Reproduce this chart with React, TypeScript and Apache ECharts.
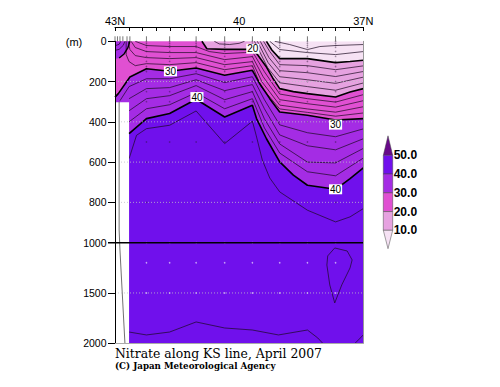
import React, { useEffect, useRef } from "react";
import * as echarts from "echarts";

// ---------------- data ----------------
const bandLevels = [10, 20, 30, 40, 50];
const bandColors = ["#f6e2f4", "#e6a2e0", "#e050d2", "#a42ce4", "#7010ec", "#680a8a"];

// thick contours: [latitude (deg N), depth (m)]
const contour10 = [[43,0],[39.34,0],[39.21,43],[39.02,86],[38.35,86],[37.67,106],[37.32,100],[37.0,94]];
const contour20 = [[43,0],[40.90,0],[40.78,37],[40.35,40],[39.82,40],[39.68,37],[39.55,68],[39.34,128],[39.19,182],[39.02,235],[38.69,250],[38.35,260],[37.67,277],[37.32,252],[37.0,235]];
const contour30 = [[43,277],[42.92,260],[42.64,177],[42.24,136],[41.68,149],[41.04,133],[40.35,169],[39.68,144],[39.50,211],[39.26,285],[39.02,351],[38.35,367],[37.67,391],[37.0,384]];
const contour30Coast = [[43,0],[42.64,0],[42.69,33],[42.78,63],[42.90,83],[43,88]];
const contour40 = [[42.66,459],[42.24,384],[41.68,359],[41.04,288],[40.35,376],[39.68,318],[39.58,384],[39.34,484],[39.02,599],[38.69,665],[38.35,715],[37.67,735],[37.32,682],[37.0,629]];

// thin contours (every 2)
const thin6 = [[39.14,0],[38.78,16],[38.35,41],[38.05,26],[37.67,21],[37.0,16]];
const thin8 = [[39.26,0],[39.02,41],[38.35,56],[37.67,66],[37.0,51]];
const thin12 = [[39.41,0],[39.26,51],[39.02,116],[38.35,121],[37.67,141],[37.0,122]];
const thin14 = [[39.49,0],[39.28,81],[39.02,146],[38.35,156],[37.67,175],[37.0,150]];
const thin16 = [[39.56,0],[39.30,106],[39.02,176],[38.35,191],[37.67,209],[37.0,178]];
const thin18 = [[39.63,0],[39.31,131],[39.02,206],[38.35,225],[37.67,243],[37.0,207]];
const thin18Bump = [[40.60,0],[40.48,13],[40.23,16],[40.0,10],[39.87,0]];
const thin22 = [[42.51,0],[42.24,21],[41.68,26],[41.04,26],[40.72,51],[40.35,61],[39.87,56],[39.68,51],[39.39,151],[39.02,262],[38.35,285],[37.67,302],[37.0,265]];
const thin24 = [[42.61,0],[42.51,31],[42.24,51],[41.68,56],[41.04,56],[40.35,91],[39.68,76],[39.42,176],[39.02,290],[38.35,310],[37.67,327],[37.0,295]];
const thin26 = [[42.68,0],[42.64,41],[42.51,71],[42.24,81],[41.68,86],[41.04,81],[40.35,116],[39.68,101],[39.45,201],[39.02,317],[38.35,336],[37.67,352],[37.0,325]];
const thin28 = [[42.73,0],[42.73,66],[42.66,101],[42.51,121],[42.24,111],[41.68,116],[41.04,106],[40.35,141],[39.68,121],[39.47,226],[39.02,336],[38.35,353],[37.67,372],[37.0,356]];
const thin32 = [[42.88,295],[42.66,225],[42.24,186],[41.68,186],[41.04,161],[40.35,205],[39.68,176],[39.39,290],[39.02,415],[38.35,454],[37.67,474],[37.0,435]];
const thin34 = [[42.66,285],[42.24,235],[41.68,230],[41.04,191],[40.35,245],[39.68,215],[39.39,335],[39.02,465],[38.35,519],[37.67,539],[37.0,484]];
const thin36 = [[42.66,345],[42.24,285],[41.68,270],[41.04,220],[40.35,290],[39.68,250],[39.39,385],[39.02,510],[38.35,600],[37.67,604],[37.0,532]];
const thin38 = [[42.66,400],[42.24,335],[41.68,315],[41.04,255],[40.35,335],[39.68,285],[39.39,430],[39.02,555],[38.35,648],[37.67,668],[37.0,580]];
const thin42 = [[42.66,583],[42.48,467],[42.24,434],[41.68,417],[41.04,346],[40.35,508],[39.68,397],[39.59,466],[39.44,590],[39.26,679],[39.02,748],[38.35,839],[37.67,897],[37.32,872],[37.0,831]];
const thin42Bottom = [[42.66,1888],[42.24,1917],[41.68,1888],[41.04,1788],[40.35,1848],[39.68,1868],[39.05,1917],[38.35,1868],[38.10,1947],[37.98,2000]];
const thin42Corner = [[37.20,2000],[37.0,1917]];
const thinLoop = [[37.69,1053],[37.86,1132],[37.88,1222],[37.81,1420],[37.69,1599],[37.52,1420],[37.32,1251],[37.27,1172],[37.39,1083],[37.69,1053]];
const thinCoast1 = [[42.76,0],[42.80,20],[42.90,40],[43,45]];
const thinCoast2 = [[42.86,0],[42.90,15],[43,22]];
const coastLine = [[42.90,300],[42.90,937],[42.88,1073],[42.76,2000]];
const thinContours = [thin6, thin8, thin12, thin14, thin16, thin18, thin18Bump, thin22, thin24, thin26, thin28, thin32, thin34, thin36, thin38, thin42, thin42Bottom, thin42Corner, thinLoop, thinCoast1, thinCoast2];

const noDataBox = [[43,303],[42.66,303],[42.66,2000],[43,2000]];

// contour labels [lat, depth, text]
const contourLabels: [number, number, string][] = [[41.66,149,"30"],[41.02,277,"40"],[39.67,37,"20"],[37.67,414,"30"],[37.67,735,"40"]];

// stations
const stationLats = [43.0, 42.94, 42.88, 42.81, 42.71, 42.64, 42.24, 41.68, 41.04, 40.35, 39.68, 39.02, 38.35, 37.67];
const sampleLats = [42.24, 41.68, 41.04, 40.35, 39.68, 39.02, 38.35, 37.67];
const sampleDepths = [0, 10, 20, 30, 50, 75, 100, 125, 150, 200, 250, 300, 400, 500, 600, 800, 1000, 1200, 1500];

// axes
const depthTicks = [0, 200, 400, 600, 800, 1000, 1500, 2000];
const dottedDepths = [200, 400, 600, 800, 1500];
const latLabelValues = [43, 40, 37];
const latMinorTicks = [43, 42.667, 42.333, 42, 41.667, 41.333, 41, 40.667, 40.333, 40, 39.667, 39.333, 39, 38.667, 38.333, 38, 37.667, 37.333, 37];

// ---------------- helpers ----------------
// broken depth scale: 0-1000 m full scale, 1000-2000 m at half scale
const tz = (d: number) => (d <= 1000 ? d : 1000 + (d - 1000) / 2);
const untz = (t: number) => (t <= 1000 ? t : 1000 + (t - 1000) * 2);
const toXY = (pts: number[][]) => pts.map((p) => [p[0], tz(p[1])]);

function trimSurface(c: number[][]) {
  let i = 0;
  while (i < c.length - 1 && c[i][1] === 0 && c[i + 1][1] === 0) i++;
  return c.slice(i);
}

function polySeries(pts: number[][], color: string, z: number) {
  return {
    type: "custom",
    coordinateSystem: "cartesian2d",
    clip: true,
    silent: true,
    z,
    data: [[40, 500]],
    renderItem: (_params: any, api: any) => ({
      type: "polygon",
      shape: { points: pts.map((p) => api.coord([p[0], tz(p[1])])) },
      style: { fill: color, stroke: null },
    }),
  };
}

function bandPolygon(contour: number[][]) {
  const first = contour[0];
  const last = contour[contour.length - 1];
  return [[43, first[1]], ...contour, [last[0], 2000], [43, 2000]];
}

function lineSeries(pts: number[][], width: number, color: string, z: number) {
  return {
    type: "line",
    data: toXY(pts),
    showSymbol: false,
    symbol: "none",
    silent: true,
    clip: true,
    z,
    lineStyle: { color, width },
  };
}

export default function App() {
  const ref = useRef<HTMLDivElement>(null);

  useEffect(() => {
    if (!ref.current) return;
    const chart = echarts.init(ref.current, null, { renderer: "svg" });

    const series: any[] = [];
    series.push(polySeries([[43, 0], [37, 0], [37, 2000], [43, 2000]], bandColors[0], 1));
    series.push(polySeries(bandPolygon(contour10), bandColors[1], 1));
    series.push(polySeries(bandPolygon(contour20), bandColors[2], 1));
    series.push(polySeries(bandPolygon(contour30), bandColors[3], 1));
    series.push(polySeries(contour30Coast, bandColors[3], 1));
    series.push(polySeries(bandPolygon(contour40), bandColors[4], 1));

    // sample dots
    const dots: number[][] = [];
    sampleLats.forEach((la) => sampleDepths.forEach((d) => dots.push([la, tz(d)])));
    series.push({
      type: "scatter",
      data: dots,
      symbolSize: 1.6,
      silent: true,
      z: 2,
      itemStyle: {
        color: (p: any) => (p.value[1] >= 1000 ? "rgba(255,255,255,0.75)" : "rgba(40,20,50,0.55)"),
      },
    });

    thinContours.forEach((c) => series.push(lineSeries(c, 0.7, "#1a0a20", 3)));

    series.push(polySeries(noDataBox, "#ffffff", 4));
    series.push(lineSeries(coastLine, 0.7, "#333333", 5));

    [contour10, contour20, contour30, contour40].forEach((c) => series.push(lineSeries(trimSurface(c), 1.6, "#000000", 6)));
    series.push(lineSeries(contour30Coast.slice(1, 5), 1.4, "#000000", 6));

    // dotted depth grid lines
    series.push({
      type: "custom",
      coordinateSystem: "cartesian2d",
      silent: true,
      z: 7,
      data: dottedDepths.map((d) => [40, tz(d)]),
      renderItem: (params: any, api: any) => {
        const d = dottedDepths[params.dataIndex];
        const a = api.coord([43, tz(d)]);
        const b = api.coord([37, tz(d)]);
        return {
          type: "line",
          shape: { x1: a[0], y1: a[1], x2: b[0], y2: b[1] },
          style: { stroke: "rgba(190,190,200,0.8)", lineWidth: 1, lineDash: [1, 2] },
        };
      },
    });
    // 1000 m break line
    series.push({
      type: "custom",
      coordinateSystem: "cartesian2d",
      silent: true,
      z: 8,
      data: [[40, 1000]],
      renderItem: (_p: any, api: any) => {
        const a = api.coord([43, 1000]);
        const b = api.coord([37, 1000]);
        return {
          type: "line",
          shape: { x1: a[0] - 7, y1: a[1], x2: b[0], y2: b[1] },
          style: { stroke: "#000", lineWidth: 1.5 },
        };
      },
    });
    // station ticks above the section
    series.push({
      type: "custom",
      coordinateSystem: "cartesian2d",
      silent: true,
      clip: false,
      z: 8,
      data: stationLats.map((la) => [la, 0]),
      renderItem: (_p: any, api: any) => {
        const a = api.coord([api.value(0), 0]);
        return {
          type: "line",
          shape: { x1: a[0], y1: a[1] - 5, x2: a[0], y2: a[1] },
          style: { stroke: "#555", lineWidth: 0.8 },
        };
      },
    });
    // contour labels
    series.push({
      type: "custom",
      coordinateSystem: "cartesian2d",
      silent: true,
      z: 9,
      data: contourLabels.map((l) => [l[0], tz(l[1])]),
      renderItem: (params: any, api: any) => {
        const p = api.coord([api.value(0), api.value(1)]);
        return {
          type: "text",
          x: p[0],
          y: p[1],
          style: {
            text: contourLabels[params.dataIndex][2],
            fill: "#000",
            font: "10px 'Liberation Sans', Arial, sans-serif",
            align: "center",
            verticalAlign: "middle",
            backgroundColor: "#ffffff",
            padding: [0, 1, 0, 1],
          },
        };
      },
    });

    // colour bar
    const barX = 383.3, barW = 9.4, barTop = 155.3, step = 18.75, triH = 19.5;
    const graphics: any[] = [];
    graphics.push({
      type: "polygon",
      shape: { points: [[barX, barTop], [barX + barW, barTop], [barX + barW / 2, barTop - triH]] },
      style: { fill: bandColors[5], stroke: "#444", lineWidth: 0.5 },
    });
    for (let i = 0; i < 4; i++) {
      graphics.push({
        type: "rect",
        shape: { x: barX, y: barTop + i * step, width: barW, height: step },
        style: { fill: bandColors[4 - i], stroke: "#444", lineWidth: 0.5 },
      });
    }
    const barBottom = barTop + 4 * step;
    graphics.push({
      type: "polygon",
      shape: { points: [[barX, barBottom], [barX + barW, barBottom], [barX + barW / 2, barBottom + 18.4]] },
      style: { fill: bandColors[0], stroke: "#444", lineWidth: 0.5 },
    });
    [...bandLevels].reverse().forEach((lv, i) => {
      graphics.push({
        type: "text",
        x: barX + barW + 1,
        y: barTop + i * step,
        style: {
          text: lv.toFixed(1),
          fill: "#000",
          font: "bold 12px 'Liberation Sans', Arial, sans-serif",
          align: "left",
          verticalAlign: "middle",
        },
      });
    });
    graphics.push({
      type: "text",
      x: 74,
      y: 42,
      style: { text: "(m)", fill: "#000", font: "11px 'Liberation Sans', Arial, sans-serif", align: "center", verticalAlign: "middle" },
    });
    graphics.push({
      type: "text",
      x: 115,
      y: 353,
      style: { text: "Nitrate along KS line, April 2007", fill: "#000", font: "12.4px 'DejaVu Serif', serif", align: "left", verticalAlign: "middle" },
    });
    graphics.push({
      type: "text",
      x: 115,
      y: 366,
      style: { text: "(C) Japan Meteorological Agency", fill: "#000", font: "bold 8.7px 'DejaVu Serif', serif", align: "left", verticalAlign: "middle" },
    });

    chart.setOption({
      animation: false,
      backgroundColor: "#ffffff",
      grid: { left: 115, top: 41.3, width: 248.3, height: 302, containLabel: false },
      xAxis: [
        {
          type: "value",
          min: 37,
          max: 43,
          inverse: true,
          position: "top",
          offset: 14.3,
          z: 10,
          axisLine: { show: true, onZero: false, lineStyle: { color: "#000", width: 1 } },
          axisTick: { show: true, inside: true, length: 4, customValues: latMinorTicks, lineStyle: { color: "#000" } },
          axisLabel: {
            customValues: latLabelValues,
            formatter: (v: number) => (Math.round(v) === 40 ? "40" : Math.round(v) + "N"),
            color: "#000",
            fontSize: 11,
            fontFamily: "'Liberation Sans', Arial, sans-serif",
            margin: 1,
          },
          splitLine: { show: false },
        },
        {
          type: "value",
          min: 37,
          max: 43,
          inverse: true,
          position: "bottom",
          z: 10,
          axisLine: { show: true, onZero: false, lineStyle: { color: "#aaa", width: 1 } },
          axisTick: { show: false },
          axisLabel: { show: false },
          splitLine: { show: false },
        },
      ],
      yAxis: [
        {
          type: "value",
          min: 0,
          max: 1500,
          inverse: true,
          z: 10,
          axisLine: { show: true, onZero: false, lineStyle: { color: "#000", width: 1 } },
          axisTick: { show: true, length: 7, customValues: depthTicks.map(tz), lineStyle: { color: "#000" } },
          axisLabel: {
            customValues: depthTicks.map(tz),
            formatter: (v: number) => String(Math.round(untz(v))),
            color: "#000",
            fontSize: 10.5,
            fontFamily: "'Liberation Sans', Arial, sans-serif",
            margin: 8.5,
          },
          splitLine: { show: false },
        },
        {
          type: "value",
          min: 0,
          max: 1500,
          inverse: true,
          position: "right",
          z: 10,
          axisLine: { show: true, onZero: false, lineStyle: { color: "#999", width: 1 } },
          axisTick: { show: false },
          axisLabel: { show: false },
          splitLine: { show: false },
        },
      ],
      series,
      graphic: graphics,
    });

    return () => chart.dispose();
  }, []);

  return (
    <div
      ref={ref}
      style={{ position: "absolute", left: 0, top: 0, width: 500, height: 387, background: "#fff" }}
    />
  );
}
